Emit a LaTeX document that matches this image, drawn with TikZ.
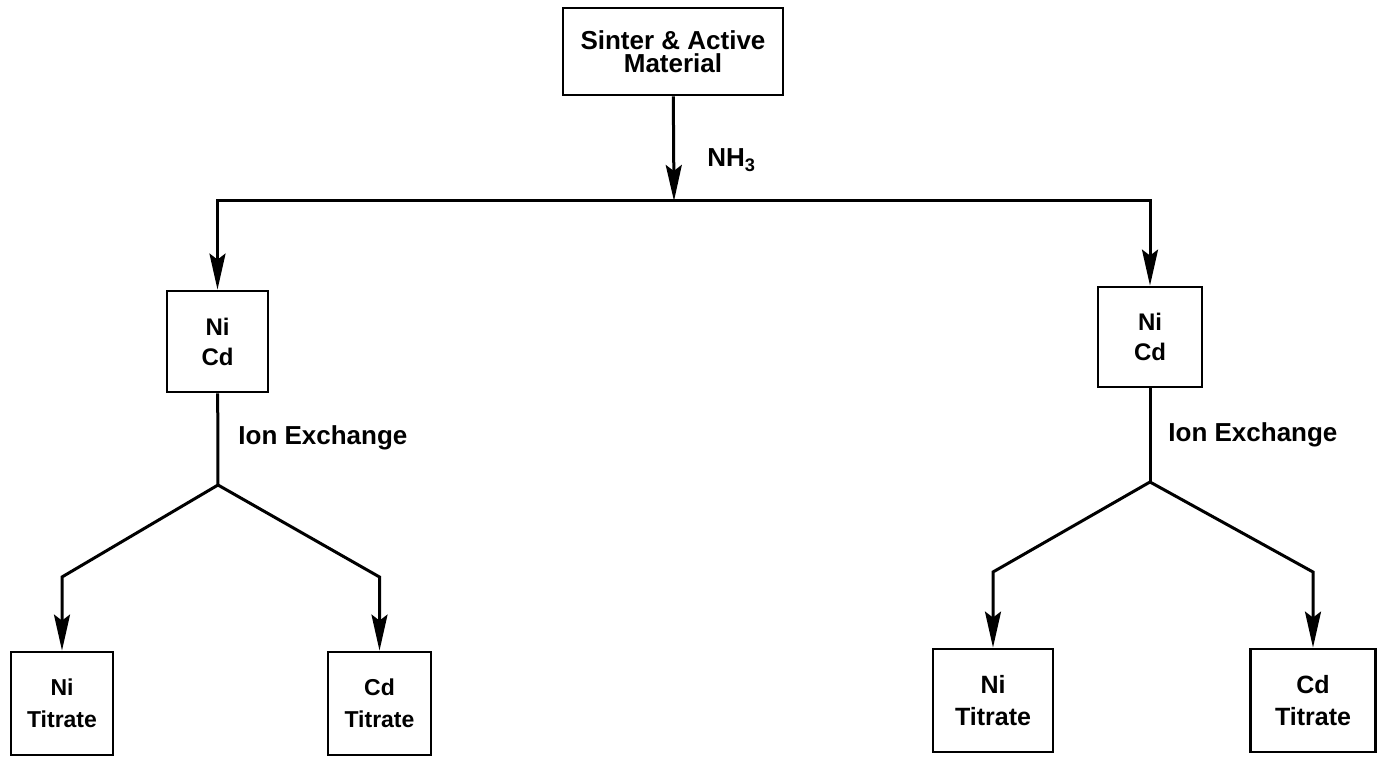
\documentclass[tikz,border=0pt]{standalone}
\usepackage{fontspec}
\setmainfont{Liberation Sans}
\usepackage{tikz}
\usetikzlibrary{arrows.meta,positioning,calc}
\definecolor{inkBlack}{RGB}{0, 0, 0}

\tikzset{
    procbox/.style={draw=inkBlack, line width=1.4pt, align=center, inner sep=2pt, font=\bfseries},
    link/.style={draw=inkBlack, line width=1.5pt},
    flow/.style={link, -{Stealth[length=18pt,width=8pt,inset=3pt]}},
    flowboth/.style={link, {Stealth[length=18pt,width=8pt,inset=3pt]}-{Stealth[length=18pt,width=8pt,inset=3pt]}},
    steplabel/.style={anchor=west, inner sep=0pt, font=\fontsize{13pt}{15pt}\selectfont\bfseries}
}

\begin{document}
\begin{tikzpicture}[x=0.5pt, y=-0.5pt]
    \useasboundingbox (0,0) rectangle (1387,758);

    % source box
    \node[procbox, minimum width=110pt, minimum height=43.5pt, font=\fontsize{13pt}{11.5pt}\selectfont\bfseries] (sinter) at (673,51.5) {Sinter \& Active\\Material};

    % ammonia leach gives Ni + Cd solutions
    \node[procbox, minimum width=50.5pt, minimum height=50.5pt, font=\fontsize{12pt}{15pt}\selectfont\bfseries] (nicdL) at (217.5,341.5) {Ni\\Cd};
    \node[procbox, minimum width=52pt, minimum height=50pt, font=\fontsize{12pt}{15pt}\selectfont\bfseries] (nicdR) at (1150,337) {Ni\\Cd};

    % titration boxes
    \node[procbox, minimum width=51pt, minimum height=51.5pt, font=\fontsize{11.5pt}{16pt}\selectfont\bfseries] (niL) at (62,703.5) {Ni\\Titrate};
    \node[procbox, minimum width=51.5pt, minimum height=51.5pt, font=\fontsize{11.5pt}{16pt}\selectfont\bfseries] (cdL) at (379.5,703.5) {Cd\\Titrate};
    \node[procbox, minimum width=60pt, minimum height=51.5pt, font=\fontsize{12.5pt}{16pt}\selectfont\bfseries] (niR) at (993,700.5) {Ni\\Titrate};
    \node[procbox, minimum width=62.5pt, minimum height=51.5pt, font=\fontsize{12.5pt}{16pt}\selectfont\bfseries] (cdR) at (1313,700.5) {Cd\\Titrate};

    % branch points
    \coordinate (split) at (674,201);
    \coordinate (jL) at (218,485);
    \coordinate (jR) at (1150,482);
    \coordinate (kL1) at (62,577);
    \coordinate (kL2) at (379.5,577);
    \coordinate (kR1) at (993,572);
    \coordinate (kR2) at (1313,572);

    % labels
    \node[steplabel] (nh3) at (707,160) {NH\textsubscript{3}};
    \node[steplabel] (ionL) at (238,438) {Ion Exchange};
    \node[steplabel] (ionR) at (1168,435) {Ion Exchange};

    % connectors
    \draw[flow] (sinter) -- (split);
    \draw[flowboth] (nicdL) |- (split) -| (nicdR);

    \draw[link] (nicdL) -- (jL);
    \draw[flow] (jL) -- (kL1) -- (niL);
    \draw[flow] (jL) -- (kL2) -- (cdL);

    \draw[link] (nicdR) -- (jR);
    \draw[flow] (jR) -- (kR1) -- (niR);
    \draw[flow] (jR) -- (kR2) -- (cdR);
\end{tikzpicture}
\end{document}
